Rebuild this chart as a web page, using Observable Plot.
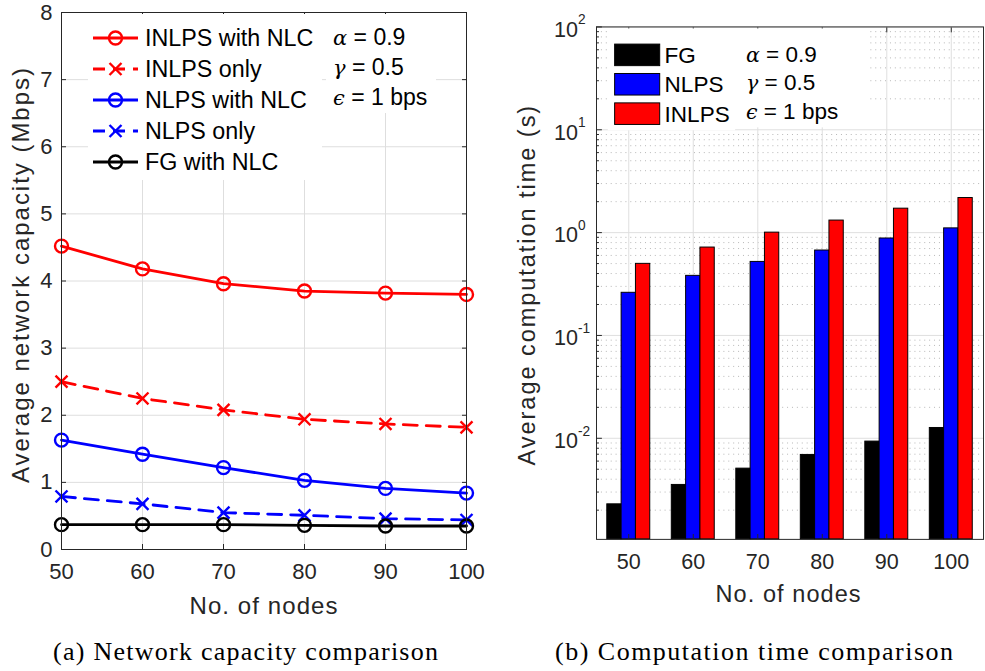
<!DOCTYPE html>
<html><head><meta charset="utf-8">
<script src="https://cdn.jsdelivr.net/npm/d3@7"></script>
<script src="https://cdn.jsdelivr.net/npm/@observablehq/plot@0.6"></script>
<style>
body{margin:0;background:#fff;overflow:hidden}
#fig{position:relative;width:985px;height:671px;overflow:hidden;background:#fff}
#a{position:absolute;left:0;top:0}
#b{position:absolute;left:500px;top:0}
#over{position:absolute;left:0;top:0;pointer-events:none}
</style></head><body>
<div id="fig"><div id="a"></div><div id="b"></div><svg id="over" width="985" height="671"></svg></div>
<script>
// ---------- data ----------
const nodes = [50, 60, 70, 80, 90, 100];
const seriesNames = ["INLPS with NLC", "INLPS only", "NLPS with NLC", "NLPS only", "FG with NLC"];
const capInlpsNlc = [4.52, 4.18, 3.96, 3.85, 3.82, 3.80];
const capInlpsOnly = [2.50, 2.25, 2.08, 1.94, 1.87, 1.82];
const capNlpsNlc = [1.63, 1.42, 1.22, 1.03, 0.91, 0.84];
const capNlpsOnly = [0.79, 0.68, 0.55, 0.51, 0.46, 0.44];
const capFgNlc = [0.37, 0.37, 0.37, 0.36, 0.35, 0.35];

const barNames = ["FG", "NLPS", "INLPS"];
const timeFG = [0.00228, 0.00352, 0.00507, 0.00689, 0.00929, 0.0126];
const timeNLPS = [0.260, 0.380, 0.519, 0.670, 0.877, 1.10];
const timeINLPS = [0.497, 0.716, 1.00, 1.31, 1.71, 2.17];

const yTicksA = [0, 1, 2, 3, 4, 5, 6, 7, 8];
const decades = [0.01, 0.1, 1, 10, 100];
const decadeExp = ["-2", "-1", "0", "1", "2"];
const params = [["α", "0.9"], ["γ", "0.5"], ["ϵ", "1 bps"]];

// ---------- styles ----------
const SANS = "Liberation Sans, Arial, Helvetica, sans-serif";
const SERIF = "Liberation Serif, Times New Roman, serif";
const GREEK = "DejaVu Serif, serif";
const ink = "#262626";
const grid = "#dedede";
const RED = "#ff0000", BLUE = "#0000ff", BLACK = "#000000";

const lineSpecs = [
  {name: seriesNames[0], values: capInlpsNlc, color: RED, dash: null, symbol: "circle"},
  {name: seriesNames[1], values: capInlpsOnly, color: RED, dash: "14,9", symbol: "times"},
  {name: seriesNames[2], values: capNlpsNlc, color: BLUE, dash: null, symbol: "circle"},
  {name: seriesNames[3], values: capNlpsOnly, color: BLUE, dash: "14,9", symbol: "times"},
  {name: seriesNames[4], values: capFgNlc, color: BLACK, dash: null, symbol: "circle"}
];

// ---------- chart (a) ----------
const lineMarks = lineSpecs.flatMap(s => {
  const rows = nodes.map((n, i) => ({n, v: s.values[i]}));
  return [
    Plot.line(rows, {x: "n", y: "v", stroke: s.color, strokeWidth: 2.8, strokeDasharray: s.dash}),
    Plot.dot(rows, {x: "n", y: "v", symbol: s.symbol, r: s.symbol === "times" ? 5.5 : 6.5, stroke: s.color, strokeWidth: 2.4, fill: "none"})
  ];
});

const chartA = Plot.plot({
  width: 500, height: 620,
  marginLeft: 61, marginRight: 34, marginTop: 12, marginBottom: 71,
  style: {fontFamily: SANS, fontSize: "22px", color: ink, background: "transparent", overflow: "visible"},
  x: {domain: [50, 100]},
  y: {domain: [0, 8]},
  marks: [
    Plot.gridX(nodes, {stroke: grid, strokeOpacity: 1}),
    Plot.gridY(yTicksA, {stroke: grid, strokeOpacity: 1}),
    Plot.axisX({ticks: nodes, tickSize: -5, tickPadding: 19, label: null, fill: ink, stroke: ink}),
    Plot.axisX({anchor: "top", ticks: nodes, tickSize: -5, tickFormat: () => "", label: null, stroke: ink}),
    Plot.axisY({ticks: yTicksA, tickSize: -5, tickPadding: 14, label: null, fill: ink, stroke: ink}),
    Plot.axisY({anchor: "right", ticks: yTicksA, tickSize: -5, tickFormat: () => "", label: null, stroke: ink}),
    ...lineMarks,
    Plot.frame({stroke: ink, strokeWidth: 1})
  ]
});
document.getElementById("a").appendChild(chartA);

// ---------- chart (b) ----------
const yMin = 0.00104;
const minorTicks = [];
for (const d of [0.001, 0.01, 0.1, 1, 10]) for (let m = 2; m <= 9; m++) { const t = m * d; if (t > yMin && t < 100) minorTicks.push(t); }
const barW = 2.22; // bar width in node units (grouped bars)
const barSeries = [timeFG, timeNLPS, timeINLPS];
const barColors = [BLACK, BLUE, RED];
const barMarks = barSeries.map((vals, j) => {
  const rows = nodes.map((n, i) => ({n, v: vals[i]}));
  return Plot.rectY(rows, {x1: d => d.n + (j - 1.5) * barW, x2: d => d.n + (j - 0.5) * barW, y1: yMin, y2: "v", fill: barColors[j], stroke: "#000", strokeWidth: 1});
});

const chartB = Plot.plot({
  width: 495, height: 620,
  marginLeft: 98, marginRight: 2, marginTop: 27, marginBottom: 70,
  style: {fontFamily: SANS, fontSize: "22px", color: ink, background: "transparent", overflow: "visible"},
  x: {domain: [45, 105]},
  y: {type: "log", domain: [yMin, 100]},
  marks: [
    Plot.gridY(minorTicks, {stroke: "#b4b4b4", strokeOpacity: 1, strokeDasharray: "1,4"}),
    Plot.gridY(decades, {stroke: grid, strokeOpacity: 1}),
    Plot.gridX(nodes, {stroke: grid, strokeOpacity: 1}),
    ...barMarks,
    Plot.axisX({ticks: nodes, tickSize: -5, tickPadding: 20, label: null, fill: ink, stroke: ink}),
    Plot.axisX({anchor: "top", ticks: nodes, tickSize: -5, tickFormat: () => "", label: null, stroke: ink}),
    Plot.axisY({ticks: decades, tickSize: -6, tickFormat: () => "", label: null, stroke: ink}),
    Plot.axisY({ticks: minorTicks, tickSize: -3, tickFormat: () => "", label: null, stroke: ink}),
    Plot.text(decades, {y: d => d, text: () => "10", frameAnchor: "left", textAnchor: "end", dx: -19, dy: 3, fontSize: 22, fill: ink}),
    Plot.text(decades, {y: d => d, text: (d, i) => decadeExp[i], frameAnchor: "left", textAnchor: "start", dx: -19, dy: -7, fontSize: 14, fill: ink}),
    Plot.frame({stroke: ink, strokeWidth: 1})
  ]
});
document.getElementById("b").appendChild(chartB);

// ---------- helpers ----------
// text placed from its start; rotated labels read bottom-to-top starting at (x, y)
function addLabel(sel, {x, y, text, size, length, rotate = false, family = SANS, fill = ink}) {
  const t = sel.append("text").attr("font-family", family).attr("font-size", size)
    .attr("fill", fill).attr("text-anchor", "start").text(text);
  if (rotate) t.attr("transform", `translate(${x},${y}) rotate(-90)`).attr("dy", "0.35em");
  else t.attr("x", x).attr("y", y);
  if (length) t.attr("textLength", length).attr("lengthAdjust", "spacing");
  return t;
}
function addParams(g, x, y0, step, size) {
  params.forEach(([gk, val], i) => {
    const t = g.append("text").attr("x", x).attr("y", y0 + i * step).attr("dy", "0.35em")
      .attr("text-anchor", "start").attr("font-size", size).attr("font-family", SANS).attr("fill", "#000");
    t.append("tspan").attr("font-family", GREEK).attr("font-style", "italic").attr("font-size", size - 2).text(gk);
    t.append("tspan").text(" = " + val);
  });
}

// ---------- legend (a) ----------
const sa = d3.select(chartA);
const ga = sa.append("g");
ga.append("rect").attr("x", 88).attr("y", 14).attr("width", 234).attr("height", 166).attr("fill", "#fff");
ga.append("rect").attr("x", 326).attr("y", 14).attr("width", 110).attr("height", 99).attr("fill", "#fff");
lineSpecs.forEach((s, i) => {
  const y = 38 + i * 31;
  ga.append("line").attr("x1", 93).attr("x2", 138).attr("y1", y).attr("y2", y)
    .attr("stroke", s.color).attr("stroke-width", 2.8).attr("stroke-dasharray", s.dash ? "12,8" : null);
  if (s.symbol === "circle") {
    ga.append("circle").attr("cx", 115.5).attr("cy", y).attr("r", 6.5).attr("fill", "none").attr("stroke", s.color).attr("stroke-width", 2.4);
  } else {
    ga.append("path").attr("transform", `translate(115.5,${y})`)
      .attr("d", d3.symbol(d3.symbolTimes, Math.PI * 5.5 * 5.5)()).attr("fill", "none").attr("stroke", s.color).attr("stroke-width", 2.4);
  }
  ga.append("text").attr("x", 145).attr("y", y).attr("dy", "0.35em").attr("text-anchor", "start").attr("font-family", SANS)
    .attr("font-size", 23.3).attr("fill", "#000").text(s.name);
});
addParams(ga, 333, 37, 30, 23);

// ---------- legend (b) ----------
const sb = d3.select(chartB);
const gb = sb.append("g");
gb.append("rect").attr("x", 110).attr("y", 29).attr("width", 130).attr("height", 104).attr("fill", "#fff");
gb.append("rect").attr("x", 242).attr("y", 29).attr("width", 133).attr("height", 101).attr("fill", "#fff");
barNames.forEach((nm, i) => {
  const y = 56 + i * 30;
  gb.append("rect").attr("x", 117).attr("y", y - 11).attr("width", 46).attr("height", 22)
    .attr("fill", barColors[i]).attr("stroke", "#000").attr("stroke-width", 1);
  gb.append("text").attr("x", 168).attr("y", y).attr("dy", "0.35em").attr("text-anchor", "start").attr("font-family", SANS)
    .attr("font-size", 23).attr("fill", "#000").text(nm);
});
addParams(gb, 251, 55, 29, 23);

// ---------- axis labels ----------
addLabel(sa, {x: 189.5, y: 614, text: "No. of nodes", size: 24, length: 148});
addLabel(sa, {x: 21, y: 483, text: "Average network capacity (Mbps)", size: 24, length: 415, rotate: true});
addLabel(sb, {x: 220, y: 614, text: "No. of nodes", size: 24, length: 148});
addLabel(sb, {x: 27, y: 475, text: "Average computation time (s)", size: 24, length: 367, rotate: true});

// ---------- captions ----------
const ov = d3.select("#over");
addLabel(ov, {x: 53, y: 660, text: "(a) Network capacity comparison", size: 26, length: 385, family: SERIF, fill: "#000"});
addLabel(ov, {x: 555, y: 660, text: "(b) Computation time comparison", size: 26, length: 398, family: SERIF, fill: "#000"});
</script>
</body></html>
